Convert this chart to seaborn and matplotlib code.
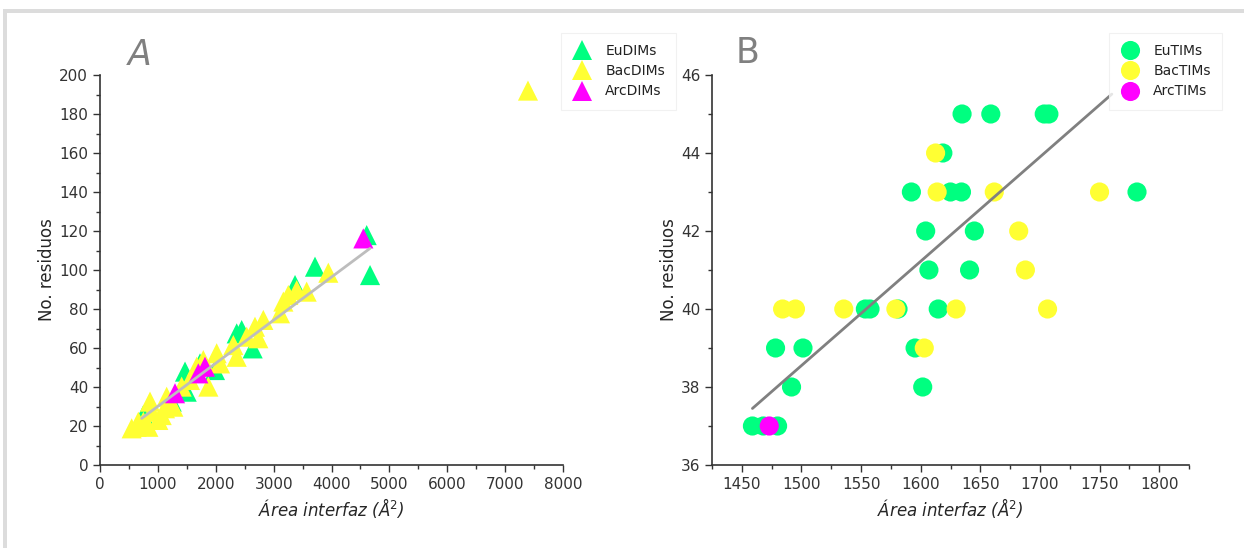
import numpy as np
import pandas as pd
import matplotlib
matplotlib.use("Agg")
import matplotlib.pyplot as plt
from matplotlib.ticker import MultipleLocator
from matplotlib.patches import Rectangle
import seaborn as sns

# ---------------- data: panel A (dímeros) ----------------
eu_dim_area = [4608, 4666, 3715, 3370, 2448, 2362, 2638, 1987, 1469, 1498, 749, 1239, 1728]
eu_dim_res = [117.9, 97.4, 101.7, 92.3, 69.2, 67.5, 59.8, 48.7, 47.9, 37.6, 25.6, 32.5, 52.1]

bac_dim_area = [7395, 3945, 3571, 3399, 3254, 3168, 3110, 2822, 2678, 2736, 2535, 2304,
                2362, 2016, 2074, 1671, 1872, 1555, 1152, 1123, 864, 893, 749, 634,
                835, 1008, 1066, 662, 547, 1267, 1411, 1785]
bac_dim_res = [192, 98.6, 88.9, 89.7, 87.2, 83.8, 77.8, 74.4, 70.9, 65, 65.8, 61.5,
               55.5, 57.3, 52.1, 50.4, 40.2, 43.6, 35, 29.1, 32.5, 27.3, 22.2, 19.6,
               19.6, 23.1, 25.6, 22.2, 18.8, 29.9, 40.2, 53.8]

arc_dim_area = [4550, 1814, 1699, 1296]
arc_dim_res = [116.2, 50.4, 47, 36.8]

fitA_area = [720, 4666]
fitA_res = [23.9, 111.1]

# ---------------- data: panel B (trímeros) ----------------
eu_tim_area = [1634.7, 1658.8, 1703.6, 1707.5, 1618.6, 1592.2, 1625.0, 1634.2, 1781.4,
               1604.2, 1645.0, 1606.9, 1641.0, 1553.6, 1557.5, 1581.0, 1614.7,
               1478.3, 1501.3, 1595.3, 1491.7, 1601.7, 1458.9, 1468.0, 1480.0]
eu_tim_res = [45, 45, 45, 45, 44, 43, 43, 43, 43,
              42, 42, 41, 41, 40, 40, 40, 40,
              39, 39, 39, 38, 38, 37, 37, 37]

bac_tim_area = [1612.5, 1613.8, 1661.7, 1750.0, 1682.2, 1687.8, 1484.2, 1495.0, 1535.5,
                1579.2, 1629.7, 1706.4, 1603.0]
bac_tim_res = [44, 43, 43, 43, 42, 41, 40, 40, 40, 40, 40, 40, 39]

arc_tim_area = [1473.0]
arc_tim_res = [37]

fitB_area = [1458.9, 1760.3]
fitB_res = [37.45, 45.51]

groups_A = ["EuDIMs", "BacDIMs", "ArcDIMs"]
groups_B = ["EuTIMs", "BacTIMs", "ArcTIMs"]
colors = ["#00FF80", "#FFFF33", "#FF00FF"]

dfA = pd.concat([
    pd.DataFrame({"area": eu_dim_area, "res": eu_dim_res, "grupo": groups_A[0]}),
    pd.DataFrame({"area": bac_dim_area, "res": bac_dim_res, "grupo": groups_A[1]}),
    pd.DataFrame({"area": arc_dim_area, "res": arc_dim_res, "grupo": groups_A[2]}),
], ignore_index=True)
dfB = pd.concat([
    pd.DataFrame({"area": eu_tim_area, "res": eu_tim_res, "grupo": groups_B[0]}),
    pd.DataFrame({"area": bac_tim_area, "res": bac_tim_res, "grupo": groups_B[1]}),
    pd.DataFrame({"area": arc_tim_area, "res": arc_tim_res, "grupo": groups_B[2]}),
], ignore_index=True)

sns.set_style("ticks")
plt.rcParams["font.family"] = ["DejaVu Sans"]
plt.rcParams["axes.edgecolor"] = "#333333"
plt.rcParams["xtick.color"] = "#333333"
plt.rcParams["ytick.color"] = "#333333"
plt.rcParams["text.color"] = "#222222"

W, H = 1244, 548
fig = plt.figure(figsize=(W / 100, H / 100), dpi=100)
fig.patch.set_facecolor("white")

axA = fig.add_axes([100 / W, 83 / H, 463 / W, 390 / H])
axB = fig.add_axes([712 / W, 83 / H, 477 / W, 390 / H])

sns.scatterplot(data=dfA, x="area", y="res", hue="grupo", hue_order=groups_A,
                palette=colors, marker="^", s=210, linewidth=0, ax=axA, zorder=3)
sns.lineplot(x=fitA_area, y=fitA_res, color="#BDBDBD", linewidth=2.0, ax=axA,
             zorder=4, legend=False)

sns.scatterplot(data=dfB, x="area", y="res", hue="grupo", hue_order=groups_B,
                palette=colors, marker="o", s=190, linewidth=0, ax=axB, zorder=3)
sns.lineplot(x=fitB_area, y=fitB_res, color="#808080", linewidth=2.0, ax=axB,
             zorder=4, legend=False)

def style_axis(ax, xlim, ylim, xmaj, xmin, ymaj, ymin):
    ax.set_xlim(*xlim)
    ax.set_ylim(*ylim)
    ax.xaxis.set_major_locator(MultipleLocator(xmaj))
    ax.xaxis.set_minor_locator(MultipleLocator(xmin))
    ax.yaxis.set_major_locator(MultipleLocator(ymaj))
    ax.yaxis.set_minor_locator(MultipleLocator(ymin))
    ax.tick_params(which="major", direction="out", length=5, width=1, labelsize=11)
    ax.tick_params(which="minor", direction="out", length=3, width=1)
    for s in ["top", "right"]:
        ax.spines[s].set_visible(False)
    for s in ["left", "bottom"]:
        ax.spines[s].set_linewidth(1.2)
    ax.set_xlabel("Área interfaz (Å$^{2}$)", fontsize=12, fontstyle="italic", labelpad=3)
    ax.set_ylabel("No. residuos", fontsize=12, labelpad=2)

style_axis(axA, (0, 8000), (0, 200), 1000, 500, 20, 10)
style_axis(axB, (1425, 1825), (36, 46), 50, 25, 2, 1)

def place_legend(ax, x_px, ax_left, ax_w):
    sns.move_legend(ax, loc="upper left",
                    bbox_to_anchor=((x_px - ax_left) / ax_w, (465 - 37) / 390),
                    title=None, frameon=True, fontsize=10, handletextpad=0.9,
                    labelspacing=0.45, borderpad=0.5, handlelength=1.5,
                    borderaxespad=0)
    leg = ax.get_legend()
    leg.get_frame().set_edgecolor("#EEEEEE")
    leg.get_frame().set_linewidth(0.8)
    leg.get_frame().set_boxstyle("square")

place_legend(axA, 565, 100, 463)
place_legend(axB, 1113, 712, 477)

fig.text(140 / W, 1 - 55 / H, "A", fontsize=25, color="#808080", fontstyle="italic",
         ha="center", va="center")
fig.text(748 / W, 1 - 53 / H, "B", fontsize=25, color="#808080",
         ha="center", va="center")

# light frame lines of the original picture
fig.add_artist(Rectangle((3 / W, 1 - 13 / H), 1 - 3 / W, 4 / H, transform=fig.transFigure,
                         facecolor="#DCDCDC", edgecolor="none"))
fig.add_artist(Rectangle((3 / W, 0), 4 / W, 1 - 9 / H, transform=fig.transFigure,
                         facecolor="#DCDCDC", edgecolor="none"))

fig.savefig("out.png", dpi=100)
